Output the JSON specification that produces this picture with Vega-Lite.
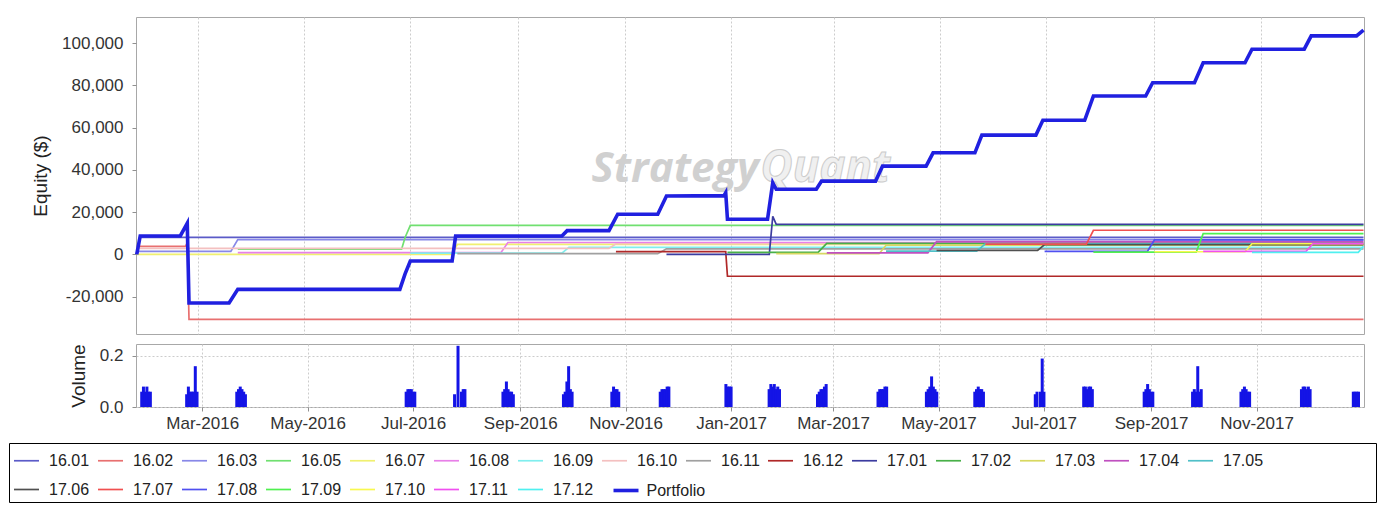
{
  "$schema": "https://vega.github.io/schema/vega-lite/v6.json",
  "background": "white",
  "padding": {"left": 8, "top": 16, "right": 8, "bottom": 0},
  "autosize": {"type": "pad"},
  "bounds": "flush",
  "spacing": 10,
  "config": {
    "font": "Liberation Sans",
    "view": {"stroke": "#a8a8a8", "strokeWidth": 1},
    "locale": {"number": {"decimal": ".", "thousands": ",", "grouping": [3], "currency": ["$", ""], "minus": "-"}},
    "axis": {
      "labelFont": "Liberation Sans", "labelFontSize": 17, "labelColor": "#333333",
      "titleFont": "Liberation Sans", "titleFontSize": 19, "titleFontWeight": "normal", "titleColor": "#222222",
      "tickColor": "#909090", "tickSize": 4, "domain": false,
      "gridColor": "#cccccc", "gridDash": [2, 2], "gridWidth": 1, "titlePadding": 11, "labelOverlap": false
    },
    "axisX": {"labelPadding": 4},
    "axisY": {"labelPadding": 9}
  },
  "datasets": {
    "eq": [
      {"s":"16.01","d":"2016-01-26","v":0},{"s":"16.01","d":"2016-01-28","v":8000},{"s":"16.01","d":"2017-12-30","v":8000},
      {"s":"16.02","d":"2016-01-26","v":3800},{"s":"16.02","d":"2016-02-23","v":3800},{"s":"16.02","d":"2016-02-24","v":5500},{"s":"16.02","d":"2016-02-25","v":-30800},{"s":"16.02","d":"2017-12-30","v":-30800},
      {"s":"16.03","d":"2016-01-26","v":1400},{"s":"16.03","d":"2016-03-20","v":1400},{"s":"16.03","d":"2016-03-24","v":7000},{"s":"16.03","d":"2017-12-30","v":7000},
      {"s":"16.05","d":"2016-03-24","v":2400},{"s":"16.05","d":"2016-06-26","v":2400},{"s":"16.05","d":"2016-06-28","v":8000},{"s":"16.05","d":"2016-07-01","v":13700},{"s":"16.05","d":"2017-12-30","v":13700},
      {"s":"16.07","d":"2016-01-26","v":0},{"s":"16.07","d":"2016-07-25","v":0},{"s":"16.07","d":"2016-07-28","v":4700},{"s":"16.07","d":"2017-12-30","v":4700},
      {"s":"16.08","d":"2016-03-24","v":800},{"s":"16.08","d":"2016-08-22","v":800},{"s":"16.08","d":"2016-08-26","v":5600},{"s":"16.08","d":"2017-12-30","v":5600},
      {"s":"16.09","d":"2016-07-01","v":600},{"s":"16.09","d":"2016-09-26","v":600},{"s":"16.09","d":"2016-09-30","v":3300},{"s":"16.09","d":"2017-12-30","v":3300},
      {"s":"16.10","d":"2016-01-26","v":2800},{"s":"16.10","d":"2016-10-23","v":2800},{"s":"16.10","d":"2016-10-27","v":5000},{"s":"16.10","d":"2017-12-30","v":5000},
      {"s":"16.11","d":"2016-07-28","v":300},{"s":"16.11","d":"2016-11-20","v":300},{"s":"16.11","d":"2016-11-25","v":2600},{"s":"16.11","d":"2017-12-30","v":2600},
      {"s":"16.12","d":"2016-10-27","v":1300},{"s":"16.12","d":"2016-12-29","v":1300},{"s":"16.12","d":"2016-12-30","v":-10400},{"s":"16.12","d":"2017-12-30","v":-10400},
      {"s":"17.01","d":"2016-11-25","v":0},{"s":"17.01","d":"2017-01-23","v":0},{"s":"17.01","d":"2017-01-25","v":18000},{"s":"17.01","d":"2017-01-27","v":14200},{"s":"17.01","d":"2017-12-30","v":14200},
      {"s":"17.02","d":"2016-12-30","v":900},{"s":"17.02","d":"2017-02-20","v":900},{"s":"17.02","d":"2017-02-25","v":5200},{"s":"17.02","d":"2017-12-30","v":5200},
      {"s":"17.03","d":"2017-01-27","v":300},{"s":"17.03","d":"2017-03-27","v":300},{"s":"17.03","d":"2017-03-31","v":4300},{"s":"17.03","d":"2017-12-30","v":4300},
      {"s":"17.04","d":"2017-02-25","v":700},{"s":"17.04","d":"2017-04-24","v":700},{"s":"17.04","d":"2017-04-29","v":6000},{"s":"17.04","d":"2017-12-30","v":6000},
      {"s":"17.05","d":"2017-03-31","v":1500},{"s":"17.05","d":"2017-05-22","v":1500},{"s":"17.05","d":"2017-05-27","v":5000},{"s":"17.05","d":"2017-12-30","v":5000},
      {"s":"17.06","d":"2017-04-29","v":1800},{"s":"17.06","d":"2017-06-26","v":1800},{"s":"17.06","d":"2017-06-30","v":4600},{"s":"17.06","d":"2017-12-30","v":4600},
      {"s":"17.07","d":"2017-05-27","v":4800},{"s":"17.07","d":"2017-07-24","v":4800},{"s":"17.07","d":"2017-07-28","v":11400},{"s":"17.07","d":"2017-12-30","v":11400},
      {"s":"17.08","d":"2017-06-30","v":1400},{"s":"17.08","d":"2017-08-28","v":1400},{"s":"17.08","d":"2017-09-01","v":6800},{"s":"17.08","d":"2017-12-30","v":6800},
      {"s":"17.09","d":"2017-07-28","v":1000},{"s":"17.09","d":"2017-09-25","v":1000},{"s":"17.09","d":"2017-09-29","v":9800},{"s":"17.09","d":"2017-12-30","v":9800},
      {"s":"17.10","d":"2017-09-01","v":1200},{"s":"17.10","d":"2017-10-23","v":1200},{"s":"17.10","d":"2017-10-27","v":5000},{"s":"17.10","d":"2017-12-30","v":5000},
      {"s":"17.11","d":"2017-09-29","v":1400},{"s":"17.11","d":"2017-11-27","v":1400},{"s":"17.11","d":"2017-12-01","v":5000},{"s":"17.11","d":"2017-12-30","v":5000},
      {"s":"17.12","d":"2017-10-27","v":900},{"s":"17.12","d":"2017-12-27","v":900},{"s":"17.12","d":"2017-12-30","v":3800},
      {"s":"Portfolio","d":"2016-01-26","v":0},{"s":"Portfolio","d":"2016-01-28","v":8700},{"s":"Portfolio","d":"2016-02-20","v":8700},{"s":"Portfolio","d":"2016-02-24","v":14700},{"s":"Portfolio","d":"2016-02-25","v":-23100},
      {"s":"Portfolio","d":"2016-03-19","v":-23100},{"s":"Portfolio","d":"2016-03-24","v":-16600},{"s":"Portfolio","d":"2016-06-25","v":-16600},{"s":"Portfolio","d":"2016-06-28","v":-9300},{"s":"Portfolio","d":"2016-07-01","v":-3200},
      {"s":"Portfolio","d":"2016-07-25","v":-3200},{"s":"Portfolio","d":"2016-07-27","v":8700},{"s":"Portfolio","d":"2016-09-26","v":8700},{"s":"Portfolio","d":"2016-09-29","v":11200},
      {"s":"Portfolio","d":"2016-10-23","v":11200},{"s":"Portfolio","d":"2016-10-28","v":19000},{"s":"Portfolio","d":"2016-11-20","v":19000},{"s":"Portfolio","d":"2016-11-25","v":27600},
      {"s":"Portfolio","d":"2016-12-28","v":27800},{"s":"Portfolio","d":"2016-12-29","v":29200},{"s":"Portfolio","d":"2016-12-30","v":16600},{"s":"Portfolio","d":"2017-01-22","v":16600},
      {"s":"Portfolio","d":"2017-01-25","v":33900},{"s":"Portfolio","d":"2017-01-27","v":30800},{"s":"Portfolio","d":"2017-02-19","v":30800},{"s":"Portfolio","d":"2017-02-22","v":34700},
      {"s":"Portfolio","d":"2017-03-25","v":34700},{"s":"Portfolio","d":"2017-03-29","v":41800},{"s":"Portfolio","d":"2017-04-23","v":41800},{"s":"Portfolio","d":"2017-04-27","v":48100},
      {"s":"Portfolio","d":"2017-05-21","v":48100},{"s":"Portfolio","d":"2017-05-25","v":56500},{"s":"Portfolio","d":"2017-06-25","v":56500},{"s":"Portfolio","d":"2017-06-29","v":63500},
      {"s":"Portfolio","d":"2017-07-23","v":63500},{"s":"Portfolio","d":"2017-07-28","v":75000},{"s":"Portfolio","d":"2017-08-27","v":75000},{"s":"Portfolio","d":"2017-08-31","v":81300},
      {"s":"Portfolio","d":"2017-09-24","v":81300},{"s":"Portfolio","d":"2017-09-29","v":90800},{"s":"Portfolio","d":"2017-10-23","v":90800},{"s":"Portfolio","d":"2017-10-27","v":97200},
      {"s":"Portfolio","d":"2017-11-26","v":97200},{"s":"Portfolio","d":"2017-11-30","v":103500},{"s":"Portfolio","d":"2017-12-26","v":103500},{"s":"Portfolio","d":"2017-12-30","v":106200}
    ],
    "vol": [
      {"d":"2016-01-26","v":0.06},{"d":"2016-01-27","v":0.08},{"d":"2016-01-28","v":0.06},{"d":"2016-01-29","v":0.08},{"d":"2016-01-30","v":0.06},{"d":"2016-01-31","v":0.06},
      {"d":"2016-02-21","v":0.05},{"d":"2016-02-22","v":0.08},{"d":"2016-02-23","v":0.06},{"d":"2016-02-24","v":0.06},{"d":"2016-02-25","v":0.06},{"d":"2016-02-26","v":0.16},{"d":"2016-02-27","v":0.06},
      {"d":"2016-03-21","v":0.06},{"d":"2016-03-22","v":0.07},{"d":"2016-03-23","v":0.08},{"d":"2016-03-24","v":0.07},{"d":"2016-03-25","v":0.06},{"d":"2016-03-26","v":0.05},
      {"d":"2016-06-27","v":0.06},{"d":"2016-06-28","v":0.07},{"d":"2016-06-29","v":0.07},{"d":"2016-06-30","v":0.07},{"d":"2016-07-01","v":0.06},{"d":"2016-07-02","v":0.06},
      {"d":"2016-07-25","v":0.05},{"d":"2016-07-27","v":0.24},{"d":"2016-07-29","v":0.06},{"d":"2016-07-30","v":0.07},{"d":"2016-07-31","v":0.07},
      {"d":"2016-08-22","v":0.06},{"d":"2016-08-23","v":0.07},{"d":"2016-08-24","v":0.10},{"d":"2016-08-25","v":0.07},{"d":"2016-08-26","v":0.06},{"d":"2016-08-27","v":0.06},{"d":"2016-08-28","v":0.05},
      {"d":"2016-09-26","v":0.05},{"d":"2016-09-27","v":0.06},{"d":"2016-09-28","v":0.10},{"d":"2016-09-29","v":0.16},{"d":"2016-09-30","v":0.07},{"d":"2016-10-01","v":0.06},
      {"d":"2016-10-24","v":0.06},{"d":"2016-10-25","v":0.08},{"d":"2016-10-26","v":0.07},{"d":"2016-10-27","v":0.07},{"d":"2016-10-28","v":0.06},
      {"d":"2016-11-21","v":0.06},{"d":"2016-11-22","v":0.07},{"d":"2016-11-23","v":0.07},{"d":"2016-11-24","v":0.07},{"d":"2016-11-25","v":0.08},{"d":"2016-11-26","v":0.08},
      {"d":"2016-12-29","v":0.09},{"d":"2016-12-30","v":0.08},{"d":"2016-12-31","v":0.08},{"d":"2017-01-01","v":0.08},
      {"d":"2017-01-23","v":0.07},{"d":"2017-01-24","v":0.09},{"d":"2017-01-25","v":0.08},{"d":"2017-01-26","v":0.09},{"d":"2017-01-27","v":0.07},{"d":"2017-01-28","v":0.08},{"d":"2017-01-29","v":0.07},
      {"d":"2017-02-20","v":0.05},{"d":"2017-02-21","v":0.06},{"d":"2017-02-22","v":0.07},{"d":"2017-02-23","v":0.07},{"d":"2017-02-24","v":0.08},{"d":"2017-02-25","v":0.09},
      {"d":"2017-03-27","v":0.06},{"d":"2017-03-28","v":0.07},{"d":"2017-03-29","v":0.07},{"d":"2017-03-30","v":0.07},{"d":"2017-03-31","v":0.08},{"d":"2017-04-01","v":0.08},
      {"d":"2017-04-24","v":0.06},{"d":"2017-04-25","v":0.07},{"d":"2017-04-26","v":0.08},{"d":"2017-04-27","v":0.12},{"d":"2017-04-28","v":0.08},{"d":"2017-04-29","v":0.07},{"d":"2017-04-30","v":0.06},
      {"d":"2017-05-22","v":0.06},{"d":"2017-05-23","v":0.07},{"d":"2017-05-24","v":0.08},{"d":"2017-05-25","v":0.07},{"d":"2017-05-26","v":0.07},{"d":"2017-05-27","v":0.06},
      {"d":"2017-06-26","v":0.05},{"d":"2017-06-27","v":0.06},{"d":"2017-06-29","v":0.06},{"d":"2017-06-30","v":0.19},{"d":"2017-07-01","v":0.06},
      {"d":"2017-07-24","v":0.08},{"d":"2017-07-25","v":0.08},{"d":"2017-07-26","v":0.07},{"d":"2017-07-27","v":0.08},{"d":"2017-07-28","v":0.08},{"d":"2017-07-29","v":0.07},
      {"d":"2017-08-28","v":0.06},{"d":"2017-08-29","v":0.07},{"d":"2017-08-30","v":0.09},{"d":"2017-08-31","v":0.07},{"d":"2017-09-01","v":0.06},{"d":"2017-09-02","v":0.06},
      {"d":"2017-09-25","v":0.06},{"d":"2017-09-26","v":0.07},{"d":"2017-09-27","v":0.06},{"d":"2017-09-28","v":0.16},{"d":"2017-09-29","v":0.06},{"d":"2017-09-30","v":0.07},
      {"d":"2017-10-23","v":0.06},{"d":"2017-10-24","v":0.07},{"d":"2017-10-25","v":0.08},{"d":"2017-10-26","v":0.07},{"d":"2017-10-27","v":0.06},{"d":"2017-10-28","v":0.06},
      {"d":"2017-11-27","v":0.07},{"d":"2017-11-28","v":0.08},{"d":"2017-11-29","v":0.08},{"d":"2017-11-30","v":0.07},{"d":"2017-12-01","v":0.08},{"d":"2017-12-02","v":0.07},
      {"d":"2017-12-27","v":0.06},{"d":"2017-12-28","v":0.06},{"d":"2017-12-29","v":0.06},{"d":"2017-12-30","v":0.06}
    ]
  },
  "vconcat": [
    {
      "width": 1228,
      "height": 317,
      "resolve": {"scale": {"color": "independent"}, "legend": {"color": "independent"}},
      "layer": [
        {
          "data": {"values": [{"t": "Strategy"}]},
          "mark": {"type": "text", "align": "right", "baseline": "middle", "font": "Open Sans", "fontSize": 42, "fontStyle": "italic", "fontWeight": "bold", "fill": "#d0d0d0"},
          "encoding": {
            "text": {"field": "t"},
            "x": {"datum": {"year": 2017, "month": 1, "date": 17}, "type": "temporal"},
            "y": {"datum": 40400, "type": "quantitative"}
          }
        },
        {
          "data": {"values": [{"t": "Quant"}]},
          "mark": {"type": "text", "align": "left", "baseline": "middle", "font": "Open Sans", "fontSize": 44, "fontStyle": "italic", "fontWeight": "bold", "fill": "#f0f0f0", "stroke": "#cccccc", "strokeWidth": 1},
          "encoding": {
            "text": {"field": "t"},
            "x": {"datum": {"year": 2017, "month": 1, "date": 18}, "type": "temporal"},
            "y": {"datum": 40400, "type": "quantitative"}
          }
        },
        {
          "data": {"name": "eq"},
          "transform": [{"filter": "datum.s !== 'Portfolio'"}],
          "mark": {"type": "line", "interpolate": "linear", "strokeWidth": 1.7},
          "encoding": {
            "x": {
              "field": "d", "type": "temporal",
              "scale": {"domain": [{"year": 2016, "month": 1, "date": 25, "hours": 14}, {"year": 2017, "month": 12, "date": 30, "hours": 7}], "nice": false},
              "axis": {"title": null, "labels": false, "ticks": false, "grid": true,
                "values": [{"year":2016,"month":3,"date":1},{"year":2016,"month":5,"date":1},{"year":2016,"month":7,"date":1},{"year":2016,"month":9,"date":1},{"year":2016,"month":11,"date":1},{"year":2017,"month":1,"date":1},{"year":2017,"month":3,"date":1},{"year":2017,"month":5,"date":1},{"year":2017,"month":7,"date":1},{"year":2017,"month":9,"date":1},{"year":2017,"month":11,"date":1}]}
            },
            "y": {
              "field": "v", "type": "quantitative",
              "scale": {"domain": [-37770, 112460], "nice": false, "zero": false},
              "axis": {"title": "Equity ($)", "values": [-20000, 0, 20000, 40000, 60000, 80000, 100000], "format": ",d"}
            },
            "color": {
              "field": "s", "type": "nominal",
              "scale": {
                "domain": ["16.01","16.02","16.03","16.05","16.07","16.08","16.09","16.10","16.11","16.12","17.01","17.02","17.03","17.04","17.05","17.06","17.07","17.08","17.09","17.10","17.11","17.12"],
                "range": ["#5b5bc8","#e87070","#8888e8","#70e070","#f0f070","#e880e8","#80eeee","#f4c0c0","#a0a0a0","#b02828","#3c3ca0","#48b048","#d8d860","#c050c0","#50c0c8","#505050","#f05050","#5050f0","#50f050","#f8f850","#f050f0","#50f0f0"]
              },
              "legend": {"orient": "none", "legendX": -127, "legendY": 426, "direction": "horizontal", "columns": 15,
                "title": " ", "titleOrient": "right", "titlePadding": 109, "titleFontSize": 2,
                "symbolType": "stroke", "symbolSize": 625, "symbolStrokeWidth": 1.7, "labelFontSize": 16, "labelFont": "Liberation Sans", "labelColor": "#222222",
                "labelOffset": 9, "columnPadding": 4, "rowPadding": 7, "padding": 4, "strokeColor": "#000000", "fillColor": "#ffffff", "labelLimit": 200}
            }
          }
        },
        {
          "data": {"name": "eq"},
          "transform": [{"filter": "datum.s === 'Portfolio'"}],
          "mark": {"type": "line", "interpolate": "linear", "strokeWidth": 3.6},
          "encoding": {
            "x": {"field": "d", "type": "temporal"},
            "y": {"field": "v", "type": "quantitative"},
            "color": {
              "field": "s", "type": "nominal",
              "scale": {"domain": ["Portfolio"], "range": ["#2020e0"]},
              "legend": {"orient": "none", "legendX": 471.5, "legendY": 455, "direction": "horizontal", "title": null,
                "symbolType": "stroke", "symbolSize": 625, "symbolStrokeWidth": 3.6, "labelFontSize": 16, "labelFont": "Liberation Sans", "labelColor": "#222222",
                "labelOffset": 6, "padding": 4, "labelLimit": 200}
            }
          }
        }
      ]
    },
    {
      "width": 1228,
      "height": 63,
      "data": {"name": "vol"},
      "mark": {"type": "bar", "size": 3, "color": "#1414e6"},
      "encoding": {
        "x": {
          "field": "d", "type": "temporal",
          "scale": {"domain": [{"year": 2016, "month": 1, "date": 25, "hours": 14}, {"year": 2017, "month": 12, "date": 30, "hours": 7}], "nice": false},
          "axis": {"title": null, "format": "%b-%Y", "grid": true,
            "values": [{"year":2016,"month":3,"date":1},{"year":2016,"month":5,"date":1},{"year":2016,"month":7,"date":1},{"year":2016,"month":9,"date":1},{"year":2016,"month":11,"date":1},{"year":2017,"month":1,"date":1},{"year":2017,"month":3,"date":1},{"year":2017,"month":5,"date":1},{"year":2017,"month":7,"date":1},{"year":2017,"month":9,"date":1},{"year":2017,"month":11,"date":1}]}
        },
        "y": {
          "field": "v", "type": "quantitative",
          "scale": {"domain": [0, 0.247], "nice": false},
          "axis": {"title": "Volume", "values": [0, 0.2], "format": ".1f"}
        }
      }
    }
  ]
}
